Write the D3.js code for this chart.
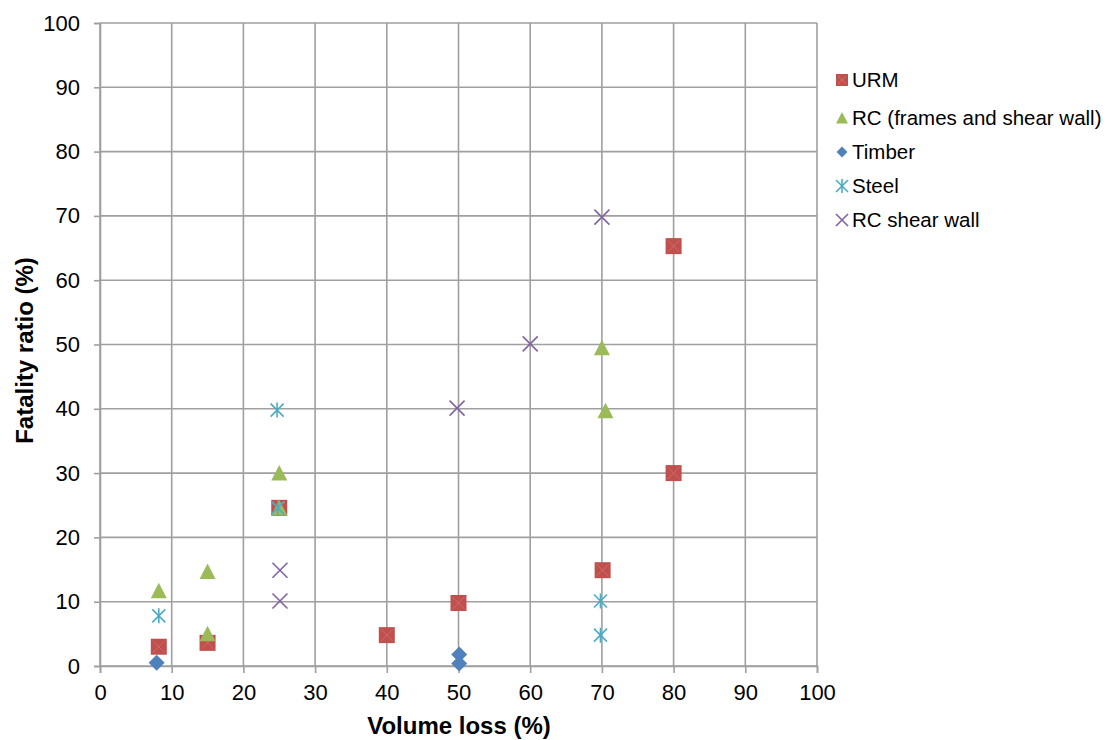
<!DOCTYPE html>
<html>
<head>
<meta charset="utf-8">
<script src="https://cdn.jsdelivr.net/npm/d3@7"></script>
<style>
  html, body { margin: 0; padding: 0; background: #fff; }
  svg { display: block; font-family: "Liberation Sans", Arial, sans-serif; }
</style>
</head>
<body>
<svg id="chart" width="1108" height="740"></svg>
<script>
// ---- data ----
const seriesNames = ["URM", "RC (frames and shear wall)", "Timber", "Steel", "RC shear wall"];
const urmX = [8.2, 15, 25, 40, 50, 70.1, 80, 80];
const urmY = [3, 3.6, 24.6, 4.8, 9.8, 14.9, 30, 65.3];
const rcX = [8.2, 15, 15, 25, 25, 70, 70.5];
const rcY = [11.7, 14.7, 5.0, 30, 24.6, 49.5, 39.7];
const timberX = [7.9, 50.1, 50.1];
const timberY = [0.5, 1.8, 0.4];
const steelX = [8.2, 24.7, 24.8, 69.8, 69.8];
const steelY = [7.8, 39.8, 24.6, 10.1, 4.8];
const rcswX = [25.1, 25.1, 49.8, 60, 70];
const rcswY = [14.9, 10.1, 40.1, 50.1, 69.8];
const xTicks = [0, 10, 20, 30, 40, 50, 60, 70, 80, 90, 100];
const yTicks = [0, 10, 20, 30, 40, 50, 60, 70, 80, 90, 100];
const xTitle = "Volume loss (%)";
const yTitle = "Fatality ratio (%)";

(function () {
// ---- layout ----
const svg = d3.select("#chart");
const pLeft = 100, pRight = 817, pTop = 23, pBottom = 666;
const x = d3.scaleLinear().domain([0, 100]).range([pLeft, pRight]);
const y = d3.scaleLinear().domain([0, 100]).range([pBottom, pTop]);
const gridColor = "#9f9f9f";

// grid
svg.append("g").selectAll("line").data(xTicks).join("line")
  .attr("x1", d => x(d)).attr("x2", d => x(d))
  .attr("y1", pTop).attr("y2", pBottom)
  .attr("stroke", gridColor).attr("stroke-width", 1.6);
svg.append("g").selectAll("line").data(yTicks).join("line")
  .attr("x1", pLeft).attr("x2", pRight)
  .attr("y1", d => y(d)).attr("y2", d => y(d))
  .attr("stroke", gridColor).attr("stroke-width", 1.6);

// axes
const xAxis = d3.axisBottom(x).tickValues(xTicks).tickSize(7).tickPadding(11);
const gx = svg.append("g").attr("transform", `translate(0,${pBottom})`).call(xAxis);
const yAxis = d3.axisLeft(y).tickValues(yTicks).tickSize(6).tickPadding(14);
const gy = svg.append("g").attr("transform", `translate(${pLeft},0)`).call(yAxis);
[gx, gy].forEach(g => {
  g.select(".domain").attr("stroke", gridColor).attr("stroke-width", 1.6);
  g.selectAll(".tick line").attr("stroke", gridColor).attr("stroke-width", 1.6);
  g.selectAll(".tick text").attr("fill", "#000")
    .style("font-family", '"Liberation Sans", Arial, sans-serif').style("font-size", "22px");
});

// titles
svg.append("text").attr("x", 459).attr("y", 734)
  .attr("text-anchor", "middle").attr("font-weight", "bold").attr("font-size", "24px")
  .text(xTitle);
svg.append("text").attr("transform", `translate(33,${(pTop + pBottom) / 2 + 6}) rotate(-90)`)
  .attr("text-anchor", "middle").attr("font-weight", "bold").attr("font-size", "24px")
  .text(yTitle);

// ---- markers ----
const colors = ["#C0504D", "#9BBB59", "#4F81BD", "#4BACC6", "#8064A2"];
function drawMarker(g, type, cx, cy, s) {
  const h = s / 2;
  if (type === 0) {
    g.append("rect").attr("x", cx - h).attr("y", cy - h).attr("width", s).attr("height", s)
      .attr("fill", colors[0]);
    g.append("path").attr("d", `M${cx - h + 2},${cy - h + 2}L${cx + h - 2},${cy + h - 2}M${cx + h - 2},${cy - h + 2}L${cx - h + 2},${cy + h - 2}`)
      .attr("stroke", "#dc7a76").attr("stroke-width", 1).attr("opacity", 0.6).attr("fill", "none");
  } else if (type === 1) {
    g.append("path").attr("d", `M${cx},${cy - h}L${cx + h},${cy + h - 0.5}L${cx - h},${cy + h - 0.5}Z`)
      .attr("fill", colors[1]);
  } else if (type === 2) {
    g.append("path").attr("d", `M${cx},${cy - h}L${cx + h},${cy}L${cx},${cy + h}L${cx - h},${cy}Z`)
      .attr("fill", colors[2]);
  } else if (type === 3) {
    g.append("path").attr("d", `M${cx - h},${cy - h}L${cx + h},${cy + h}M${cx + h},${cy - h}L${cx - h},${cy + h}M${cx},${cy - h - 1}L${cx},${cy + h + 1}`)
      .attr("stroke", colors[3]).attr("stroke-width", 1.6).attr("fill", "none");
  } else {
    g.append("path").attr("d", `M${cx - h},${cy - h}L${cx + h},${cy + h}M${cx + h},${cy - h}L${cx - h},${cy + h}`)
      .attr("stroke", colors[4]).attr("stroke-width", 1.6).attr("fill", "none");
  }
}

const seriesData = [
  [urmX, urmY, 16], [rcX, rcY, 16], [timberX, timberY, 16], [steelX, steelY, 13], [rcswX, rcswY, 15]
];
const mg = svg.append("g");
seriesData.forEach(([xs, ys, s], i) => {
  xs.forEach((xv, j) => drawMarker(mg, i, x(xv), y(ys[j]), s));
});

// ---- legend ----
const legY = [80, 118, 152, 186, 220];
const lg = svg.append("g");
seriesNames.forEach((name, i) => {
  drawMarker(lg, i, 842, legY[i], i === 2 ? 11 : 12);
  lg.append("text").attr("x", 852).attr("y", legY[i] + 7)
    .attr("font-size", "20.5px").attr("fill", "#000").text(name);
});
})();
</script>
</body>
</html>
